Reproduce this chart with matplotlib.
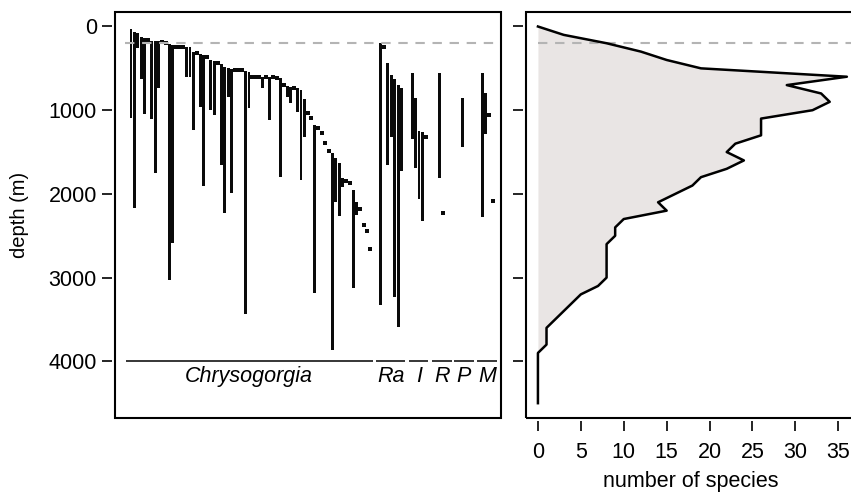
import matplotlib
matplotlib.use("Agg")
from matplotlib import pyplot as plt
from matplotlib.patches import Rectangle

plt.rcParams['font.family'] = ['Liberation Sans', 'DejaVu Sans']

# depth ranges (m) per species; min == max means a single record (dot)
chryso_min = [33, 62, 74, 129, 141, 165, 170, 170, 170, 185,
              200, 210, 220, 241, 241, 241, 241, 241, 308, 320,
              325, 340, 360, 400, 409, 440, 448, 487, 500, 511,
              515, 520, 525, 528, 540, 600, 600, 600, 607, 600,
              600, 600, 610, 619, 700, 707, 719, 731, 738, 759,
              870, 1030, 1097, 1177, 1209, 1269, 1388, 1484, 1515, 1575,
              1634, 1814, 1846, 1866, 1953, 2093, 2184, 2372, 2443, 2662]
chryso_max = [1097, 2172, 260, 631, 1049, 165, 1105, 1754, 738, 185,
              200, 3030, 2590, 241, 241, 241, 607, 607, 1237, 320,
              960, 1906, 360, 1000, 1057, 440, 1655, 2232, 839, 1986,
              515, 520, 525, 3435, 977, 600, 600, 600, 738, 600,
              1117, 600, 610, 1802, 700, 846, 918, 731, 1018, 1834,
              1317, 1030, 1097, 3185, 1209, 1269, 1388, 1484, 3865, 2093,
              2264, 1914, 1846, 1866, 3124, 2252, 2184, 2372, 2443, 2662]
ra_min = [194, 241, 440, 580, 631, 699, 739]
ra_max = [3327, 241, 1655, 1317, 3228, 3587, 1723]
i_min = [552, 858, 1249, 1257, 1324]
i_max = [1348, 1694, 2065, 2320, 1324]
r_min = [552, 2224]
r_max = [1814, 2224]
p_min = [850]
p_max = [1436]
m_min = [552, 798, 1057, 2081]
m_max = [2272, 1284, 1057, 2081]

group_names = ["Chrysogorgia", "Ra", "I", "R", "P", "M"]

# species richness profile
profile_depth = [0, 100, 200, 300, 400, 500, 600, 700, 800, 900, 1000, 1100,
                 1300, 1400, 1500, 1600, 1700, 1800, 1900, 2100, 2200, 2300,
                 2400, 2500, 2600, 3000, 3100, 3200, 3600, 3800, 3900, 4500]
profile_count = [0, 3, 8, 12, 15, 19, 36, 29, 33, 34, 32, 26,
                 26, 23, 22, 24, 22, 19, 18, 14, 15, 10,
                 9, 9, 8, 8, 7, 5, 1, 1, 0, 0]

shelf_depth = 200

groups = [(chryso_min, chryso_max), (ra_min, ra_max), (i_min, i_max),
          (r_min, r_max), (p_min, p_max), (m_min, m_max)]
group_start = [0, 72, 81, 89, 95.6, 101.2]
group_line = [(-1.4, 69.6), (70.6, 79.0), (80.2, 85.7), (86.7, 92.4),
              (93.1, 98.8), (99.8, 105.4)]

fig = plt.figure(figsize=(8.51, 4.92), dpi=100)
ax1 = fig.add_axes([0.1351, 0.1504, 0.4536, 0.8262])
ax2 = fig.add_axes([0.6177, 0.1504, 0.3835, 0.8262])


def frame(ax):
    for s in ax.spines.values():
        s.set_visible(False)
    ax.spines['left'].set_position(('outward', 2))
    ax.spines['bottom'].set_position(('outward', 2))
    ax.add_patch(Rectangle((0, 0), 1, 1, transform=ax.transAxes, fill=False,
                           lw=1.5, ec='black', clip_on=False, zorder=6))
    ax.tick_params(length=7, width=1.2, labelsize=15.5, color='black')


# left panel: depth ranges
for g, (mins, maxs) in enumerate(groups):
    xs = [group_start[g] + i for i in range(len(mins))]
    bx, bb, bh, dx, dy = [], [], [], [], []
    for x, a, b in zip(xs, mins, maxs):
        if b > a:
            bx.append(x); bb.append(a); bh.append(b - a)
        else:
            dx.append(x); dy.append(a)
    ax1.bar(bx, bh, bottom=bb, width=0.82, color='#0a0a0a', zorder=2)
    ax1.plot(dx, dy, 's', ms=2.4, color='#0a0a0a', mew=0, zorder=2)
    lo, hi = group_line[g]
    ax1.hlines(4000, lo, hi, color='black', lw=1.1)
    ax1.text((lo + hi) / 2, 4060, group_names[g], ha='center', va='top',
             fontsize=15.5, style='italic')

ax1.set_xlim(-4.6, 106.6)
ax1.set_ylim(4677, -179)
ax1.hlines(shelf_depth, -1.7, 106.6, color='#b4b4b4', lw=1.5,
           linestyles=(0, (4.5, 3.7)), zorder=3)
frame(ax1)
ax1.set_xticks([])
ax1.set_yticks([0, 1000, 2000, 3000, 4000])
ax1.tick_params(axis='y', pad=4)

# right panel: number of species by depth
ax2.fill_betweenx(profile_depth, 0, profile_count, color='#e9e5e4', lw=0)
ax2.hlines(shelf_depth, 0, 37, color='#b4b4b4', lw=1.5,
           linestyles=(0, (4.5, 3.7)), zorder=3)
ax2.plot(profile_count, profile_depth, color='black', lw=1.8, zorder=4)
ax2.set_xlim(-1.43, 36.6)
ax2.set_ylim(4677, -179)
frame(ax2)
ax2.set_xticks(range(0, 40, 5))
ax2.set_yticks([0, 1000, 2000, 3000, 4000])
ax2.tick_params(axis='y', labelleft=False)
ax2.tick_params(axis='x', pad=8)

fig.text(19.5 / 851, 1 - 215 / 492, "depth (m)", rotation=90, ha='center',
         va='center', fontsize=14.5)
fig.text(691 / 851, 1 - 487 / 492, "number of species", ha='center',
         va='baseline', fontsize=15.5)

fig.savefig("out.png", dpi=100)
